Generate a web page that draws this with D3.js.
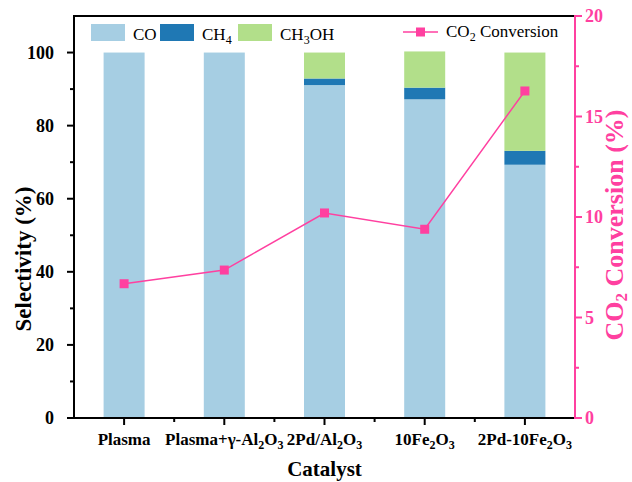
<!DOCTYPE html>
<html><head><meta charset="utf-8">
<script src="https://cdn.jsdelivr.net/npm/d3@7/dist/d3.min.js"></script>
<style>body{margin:0;background:#fff;} svg{display:block;} text{font-family:"Liberation Serif","Times New Roman",serif;}</style>
</head><body>
<svg id="c" width="632" height="482"></svg>
<script>
const categories = ["Plasma", "Plasma+γ-Al_2O_3", "2Pd/Al_2O_3", "10Fe_2O_3", "2Pd-10Fe_2O_3"];
const seriesNames = ["CO", "CH_4", "CH_3OH"];
const coValues = [100, 100, 91.1, 87.2, 69.3];
const ch4Values = [0, 0, 1.8, 3.2, 3.8];
const ch3ohValues = [0, 0, 7.1, 9.9, 26.9];
const conversion = [6.68, 7.36, 10.2, 9.39, 16.27];
const leftTicks = [0, 20, 40, 60, 80, 100];
const rightTicks = [0, 5, 10, 15, 20];

const colors = ["#a6cee3", "#1f78b4", "#b2df8a"];
const pink = "#ff40a0";
const FONT = "'Liberation Serif','Times New Roman',serif";
const svg = d3.select("#c");
const L = 74, R = 575, T = 16, B = 418;

const x = d3.scaleBand().domain(categories).range([L, R]).paddingInner(0.59).paddingOuter(0.295);
const y = d3.scaleLinear().domain([0, 110]).range([B, T]);
const y2 = d3.scaleLinear().domain([0, 20]).range([B, T]);

// text with subscripts marked as _d
function rich(sel, str, subSize, shift) {
  const parts = str.split(/(_\d)/).filter(p => p);
  let down = false;
  parts.forEach(p => {
    if (p[0] === "_") {
      sel.append("tspan").attr("font-size", subSize).attr("dy", shift).text(p.slice(1));
      down = true;
    } else {
      const t = sel.append("tspan").text(p);
      if (down) { t.attr("dy", -shift); down = false; }
    }
  });
  sel.attr("font-family", FONT);
}

// stacked bars
const table = categories.map((c, i) => ({cat: c, CO: coValues[i], CH4: ch4Values[i], CH3OH: ch3ohValues[i]}));
const stack = d3.stack().keys(["CO", "CH4", "CH3OH"])(table);
const bw = 41;
stack.forEach((layer, k) => {
  svg.append("g").selectAll("rect").data(layer).join("rect")
    .attr("x", d => x(d.data.cat) + x.bandwidth() / 2 - bw / 2)
    .attr("width", bw)
    .attr("y", d => y(d[1]))
    .attr("height", d => Math.max(0, y(d[0]) - y(d[1])))
    .attr("fill", colors[k]);
});

// line + markers
const cx = c => x(c) + x.bandwidth() / 2;
svg.append("path")
  .attr("d", d3.line().x((d, i) => cx(categories[i])).y(d => y2(d))(conversion))
  .attr("fill", "none").attr("stroke", pink).attr("stroke-width", 1.5);
svg.append("g").selectAll("rect").data(conversion).join("rect")
  .attr("x", (d, i) => cx(categories[i]) - 4.5).attr("y", d => y2(d) - 4.5)
  .attr("width", 9).attr("height", 9).attr("fill", pink);

// left axis
const gl = svg.append("g");
gl.append("line").attr("x1", L).attr("x2", L).attr("y1", T - 1).attr("y2", B + 1).attr("stroke", "#000").attr("stroke-width", 2);
d3.range(10, 110, 20).forEach(v => gl.append("line").attr("x1", L - 4).attr("x2", L).attr("y1", y(v)).attr("y2", y(v)).attr("stroke", "#000").attr("stroke-width", 2));
leftTicks.forEach(v => {
  gl.append("line").attr("x1", L - 7).attr("x2", L).attr("y1", y(v)).attr("y2", y(v)).attr("stroke", "#000").attr("stroke-width", 2);
  gl.append("text").attr("x", 54).attr("y", y(v)).attr("dy", "0.35em").attr("text-anchor", "end")
    .attr("font-family", FONT).attr("font-size", 18).attr("font-weight", "bold").text(v);
});
// top border
svg.append("line").attr("x1", L - 1).attr("x2", R).attr("y1", T).attr("y2", T).attr("stroke", "#000").attr("stroke-width", 2);
// bottom axis
const gb = svg.append("g");
gb.append("line").attr("x1", L - 1).attr("x2", R).attr("y1", B).attr("y2", B).attr("stroke", "#000").attr("stroke-width", 2);
categories.forEach((c, i) => {
  gb.append("line").attr("x1", cx(c)).attr("x2", cx(c)).attr("y1", B).attr("y2", B + 7).attr("stroke", "#000").attr("stroke-width", 2);
  if (i > 0) {
    const mx = (cx(c) + cx(categories[i - 1])) / 2;
    gb.append("line").attr("x1", mx).attr("x2", mx).attr("y1", B).attr("y2", B + 4).attr("stroke", "#000").attr("stroke-width", 2);
  }
  const t = gb.append("text").attr("x", cx(c)).attr("y", 445).attr("text-anchor", "middle")
    .attr("font-size", 17).attr("font-weight", "bold");
  rich(t, c, 12, 4);
});
gb.append("text").attr("x", (L + R) / 2).attr("y", 476).attr("text-anchor", "middle")
  .attr("font-family", FONT).attr("font-size", 21).attr("font-weight", "bold").text("Catalyst");
// left title
svg.append("text").attr("transform", `translate(31,259) rotate(-90)`).attr("text-anchor", "middle")
  .attr("font-family", FONT).attr("font-size", 23).attr("font-weight", "bold").text("Selectivity (%)");

// right axis
const gr = svg.append("g");
gr.append("line").attr("x1", R).attr("x2", R).attr("y1", T - 1).attr("y2", B + 1).attr("stroke", pink).attr("stroke-width", 2);
d3.range(2.5, 20, 5).forEach(v => gr.append("line").attr("x1", R).attr("x2", R + 4).attr("y1", y2(v)).attr("y2", y2(v)).attr("stroke", pink).attr("stroke-width", 2));
rightTicks.forEach(v => {
  gr.append("line").attr("x1", R).attr("x2", R + 7).attr("y1", y2(v)).attr("y2", y2(v)).attr("stroke", pink).attr("stroke-width", 2);
  gr.append("text").attr("x", R + 10).attr("y", y2(v)).attr("dy", "0.35em").attr("text-anchor", "start")
    .attr("font-family", FONT).attr("font-size", 18).attr("font-weight", "bold").attr("fill", pink).text(v);
});
const rt = svg.append("text").attr("transform", `translate(623,225) rotate(-90)`).attr("text-anchor", "middle")
  .attr("font-size", 26).attr("font-weight", "bold").attr("fill", pink);
rich(rt, "CO_2 Conversion (%)", 17, 4);

// legend
const lg = svg.append("g");
const legX = [91, 160, 238];
seriesNames.forEach((s, k) => {
  lg.append("rect").attr("x", legX[k]).attr("y", 24).attr("width", 34).attr("height", 17).attr("fill", colors[k]);
  const t = lg.append("text").attr("x", legX[k] + 42).attr("y", 40).attr("font-size", 17);
  rich(t, s, 12, 4);
});
lg.append("line").attr("x1", 403).attr("x2", 438).attr("y1", 32).attr("y2", 32).attr("stroke", pink).attr("stroke-width", 1.5);
lg.append("rect").attr("x", 416).attr("y", 27.5).attr("width", 9).attr("height", 9).attr("fill", pink);
const lt = lg.append("text").attr("x", 446).attr("y", 37).attr("font-size", 17);
rich(lt, "CO_2 Conversion", 12, 4);
</script>
</body></html>
